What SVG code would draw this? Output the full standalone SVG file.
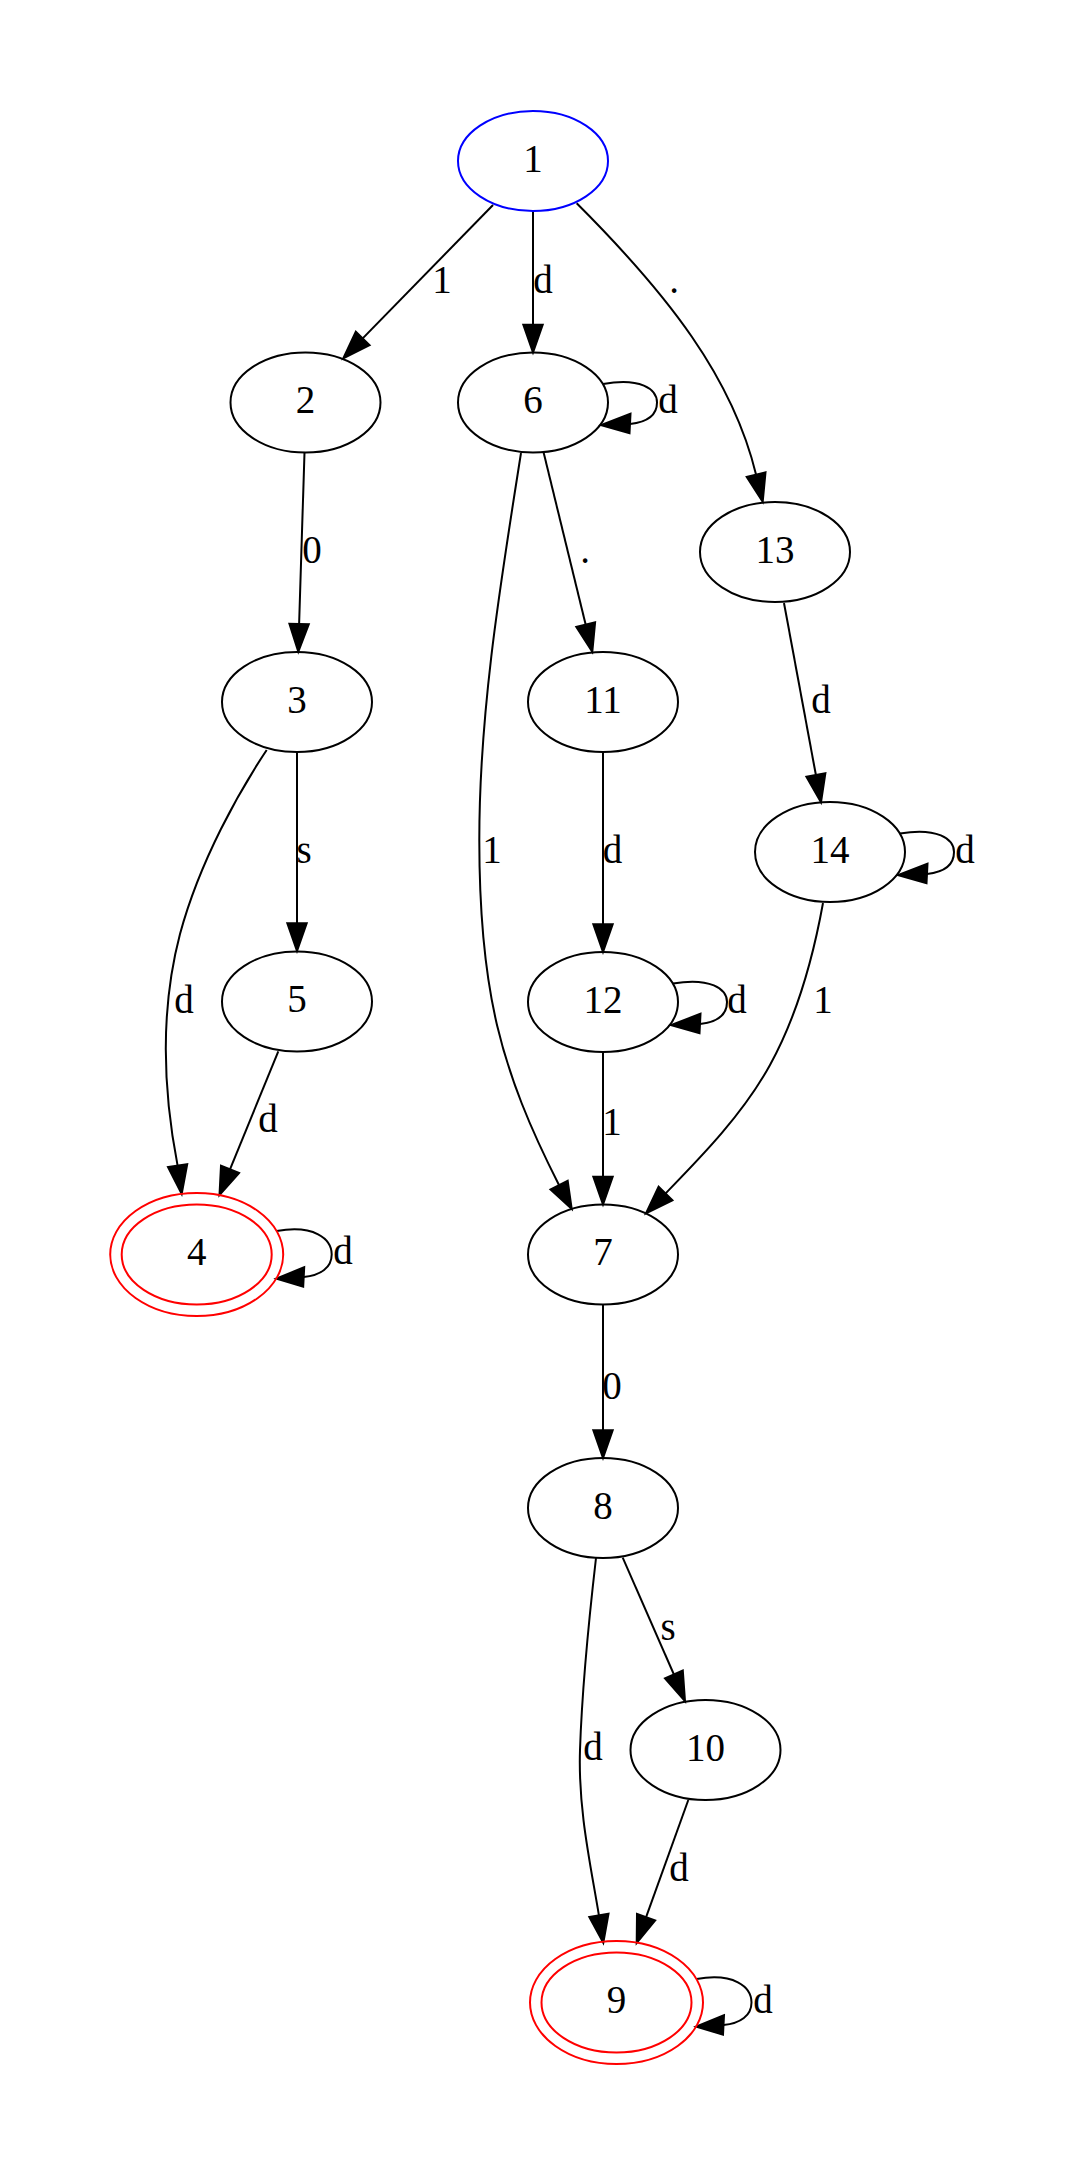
<svg xmlns="http://www.w3.org/2000/svg" width="1089" height="2175" viewBox="0 0 1089 2175">
<style>
.n ellipse{fill:none;stroke:#000;stroke-width:2}
.blue ellipse{stroke:#0000ff}
.red ellipse{stroke:#ff0000}
text{font-family:"Liberation Serif","Times New Roman",serif;font-size:39px;fill:#000;text-anchor:middle}
.e path{fill:none;stroke:#000;stroke-width:2}
.e polygon{fill:#000;stroke:#000;stroke-width:2}
</style>
<rect width="1089" height="2175" fill="#fff"/>
<g id="edges" class="e">
<!-- 1->2 -->
<path d="M493,205 L362.7,338.4"/><polygon points="369.6,345.2 343.3,358.3 355.8,331.6"/>
<text x="442" y="293">1</text>
<!-- 1->6 -->
<path d="M533,211 L533,324.7"/><polygon points="523.3,324.7 533,352.5 542.7,324.7"/>
<text x="543" y="293">d</text>
<!-- 1->13 -->
<path d="M576.7,203.3 C668.6,295.2 732.5,377.5 756.1,474.7"/><polygon points="765.5,472.4 762.7,501.7 746.7,477"/>
<text x="674" y="293">.</text>
<!-- 6 self -->
<path d="M603,384 C640,377 657,389 657,402.5 C657,415 648,422 630,424"/><polygon points="630.5,413.8 601,425 629.5,433.2"/>
<text x="668" y="413">d</text>
<!-- 2->3 -->
<path d="M304.5,452.5 L299.1,624"/><polygon points="289.4,623.7 298.3,651.8 308.8,624.3"/>
<text x="312" y="563">0</text>
<!-- 6->11 -->
<path d="M543.5,452 L585.7,624.7"/><polygon points="595.1,622.4 592.3,651.7 576.3,627"/>
<text x="585" y="563">.</text>
<!-- 6->7 -->
<path d="M521,453 C500.8,581.4 479.3,710 479.3,840 C479.3,990 500.2,1069.4 559.1,1185.2"/><polygon points="567.7,1180.8 571.7,1209 550.5,1189.6"/>
<text x="492" y="863">1</text>
<!-- 13->14 -->
<path d="M784,603 L815.9,775"/><polygon points="825.4,773.2 821,802.3 806.4,776.8"/>
<text x="821" y="713">d</text>
<!-- 14 self -->
<path d="M900,833.5 C937,827 954,839 954,852 C954,865 945,872 927,874"/><polygon points="927.5,863.8 898,875 926.5,883.2"/>
<text x="965" y="863">d</text>
<!-- 3->5 -->
<path d="M297,752 L297,923.2"/><polygon points="287.3,923.2 297,951 306.7,923.2"/>
<text x="304" y="863">s</text>
<!-- 11->12 -->
<path d="M603,752 L603,924.2"/><polygon points="593.3,924.2 603,952 612.7,924.2"/>
<text x="612.5" y="863">d</text>
<!-- 3->4 -->
<path d="M266.7,750 C240,790 200,860 180,934 C160,1010 163,1090 177.6,1165.6"/><polygon points="187.2,1164.2 181.7,1194 168,1167.1"/>
<text x="184" y="1013">d</text>
<!-- 5->4 -->
<path d="M278.3,1051.3 L230,1169.3"/><polygon points="239,1173 219.5,1195 221,1165.6"/>
<text x="268" y="1132">d</text>
<!-- 12 self -->
<path d="M673,983.5 C710,977 727,989 727,1002 C727,1015 718,1022 700,1024"/><polygon points="700.5,1013.8 671,1025 699.5,1033.2"/>
<text x="737" y="1013">d</text>
<!-- 14->7 -->
<path d="M823,903 C810,975 792,1025 770,1065 C742.5,1115 700,1158 665.5,1193.5"/><polygon points="672.4,1200.3 646,1213.3 658.6,1186.7"/>
<text x="823" y="1013">1</text>
<!-- 12->7 -->
<path d="M603,1052 L603,1176.7"/><polygon points="593.3,1176.7 603,1204.5 612.7,1176.7"/>
<text x="612" y="1135">1</text>
<!-- 4 self -->
<path d="M276.7,1231 C313.7,1224.5 331.7,1238.5 331.7,1254.5 C331.7,1267.5 320.7,1275.5 303.7,1277"/><polygon points="304.2,1267.3 276.3,1278.5 303.2,1286.7"/>
<text x="343" y="1264">d</text>
<!-- 7->8 -->
<path d="M603,1304.5 L603,1430.2"/><polygon points="593.3,1430.2 603,1458 612.7,1430.2"/>
<text x="612" y="1399">0</text>
<!-- 8->10 -->
<path d="M622.7,1557.7 L673.9,1674.5"/><polygon points="682.8,1670.6 685,1701 665,1678.4"/>
<text x="668" y="1640">s</text>
<!-- 8->9 -->
<path d="M596,1558 C590,1610 582,1690 580,1750 C578,1810 590.9,1866 598.9,1915.3"/><polygon points="608.5,1913.7 603.3,1942.7 589.3,1916.9"/>
<text x="593" y="1760">d</text>
<!-- 10->9 -->
<path d="M688.3,1800 L646.1,1917.1"/><polygon points="655.2,1920.4 636.7,1943 637,1913.8"/>
<text x="679" y="1881">d</text>
<!-- 9 self -->
<path d="M696.5,1979 C733.5,1972.5 751.5,1986.5 751.5,2002.5 C751.5,2015.5 740.5,2023.5 723.5,2025"/><polygon points="724,2015.3 696.1,2026.5 723,2034.7"/>
<text x="763" y="2013">d</text>
</g>
<g id="node1" class="n blue"><ellipse cx="533" cy="161" rx="75" ry="50"/><text x="533" y="171.8">1</text></g>
<g id="node2" class="n"><ellipse cx="305.5" cy="402.5" rx="75" ry="50"/><text x="305.5" y="413.3">2</text></g>
<g id="node6" class="n"><ellipse cx="533" cy="402.5" rx="75" ry="50"/><text x="533" y="413.3">6</text></g>
<g id="node13" class="n"><ellipse cx="775" cy="552" rx="75" ry="50"/><text x="775" y="562.8">13</text></g>
<g id="node3" class="n"><ellipse cx="297" cy="702" rx="75" ry="50"/><text x="297" y="712.8">3</text></g>
<g id="node11" class="n"><ellipse cx="603" cy="702" rx="75" ry="50"/><text x="603" y="712.8">11</text></g>
<g id="node14" class="n"><ellipse cx="830" cy="852" rx="75" ry="50"/><text x="830" y="862.8">14</text></g>
<g id="node5" class="n"><ellipse cx="297" cy="1001.5" rx="75" ry="50"/><text x="297" y="1012.3">5</text></g>
<g id="node12" class="n"><ellipse cx="603" cy="1002" rx="75" ry="50"/><text x="603" y="1012.8">12</text></g>
<g id="node4" class="n red"><ellipse cx="196.7" cy="1254.5" rx="75" ry="50"/><ellipse cx="196.7" cy="1254.5" rx="86.5" ry="61.5"/><text x="196.7" y="1265.3">4</text></g>
<g id="node7" class="n"><ellipse cx="603" cy="1254.5" rx="75" ry="50"/><text x="603" y="1265.3">7</text></g>
<g id="node8" class="n"><ellipse cx="603" cy="1508" rx="75" ry="50"/><text x="603" y="1518.8">8</text></g>
<g id="node10" class="n"><ellipse cx="705.5" cy="1750" rx="75" ry="50"/><text x="705.5" y="1760.8">10</text></g>
<g id="node9" class="n red"><ellipse cx="616.5" cy="2002.5" rx="75" ry="50"/><ellipse cx="616.5" cy="2002.5" rx="86.5" ry="61.5"/><text x="616.5" y="2013.3">9</text></g>
</svg>
